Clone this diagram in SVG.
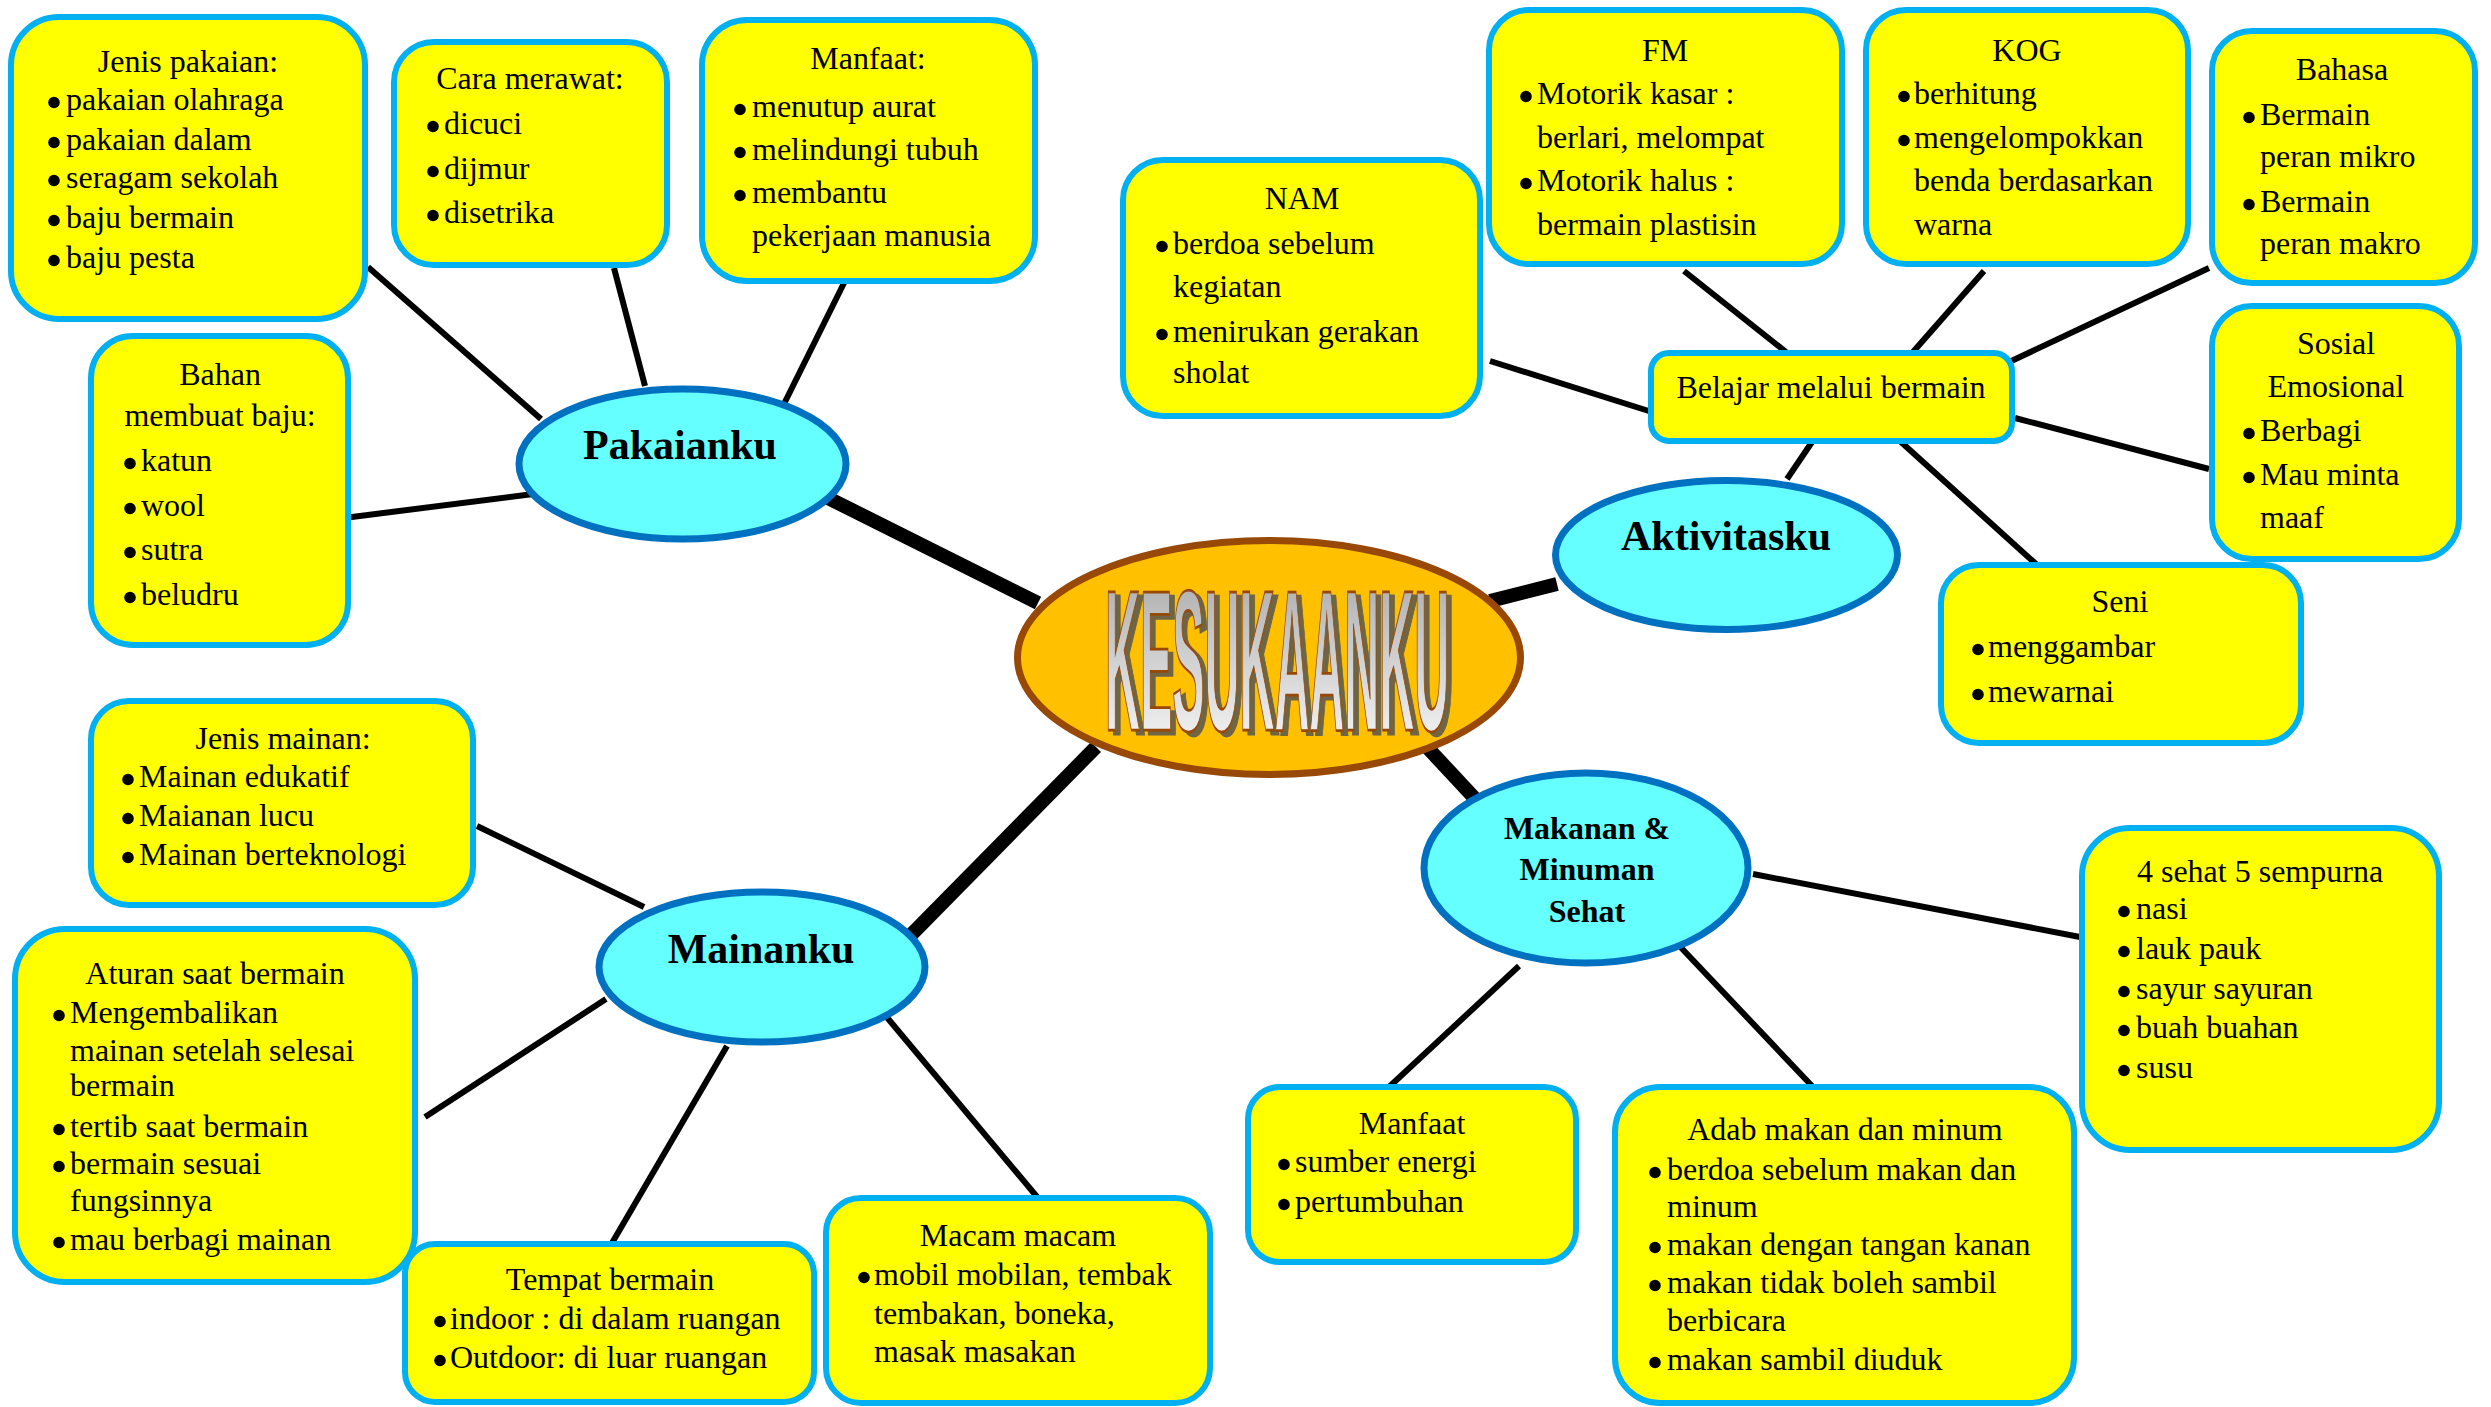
<svg xmlns="http://www.w3.org/2000/svg" width="2491" height="1407" viewBox="0 0 2491 1407">
<style>
.box{fill:#ffff00;stroke:#00b0f0;stroke-width:6}
.ell{fill:#66ffff;stroke:#0070c0;stroke-width:7}
text{font-family:"Liberation Serif","Times New Roman",serif;font-size:32px}
.c{text-anchor:middle}
.h{font-weight:bold;font-size:42px;text-anchor:middle}
.hm{font-weight:bold;font-size:32px;text-anchor:middle}
.b{fill:#000}
.ln{stroke:#000;stroke-width:6;fill:none}
.tk{stroke:#000;stroke-width:14;fill:none}
.big{font-family:"Liberation Sans",Arial,sans-serif;font-weight:bold;font-size:200px}
</style>
<defs>
<linearGradient id="gw" x1="0" y1="0" x2="0" y2="1">
<stop offset="0" stop-color="#a3a3a3"/>
<stop offset="1" stop-color="#ffffff"/>
</linearGradient>
<filter id="shadow" x="-10%" y="-10%" width="130%" height="130%" color-interpolation-filters="sRGB">
<feFlood flood-color="#6f6443" result="f"/>
<feComposite in="f" in2="SourceAlpha" operator="in" result="s"/>
<feOffset in="s" dx="5" dy="4" result="o"/>
<feMerge><feMergeNode in="o"/><feMergeNode in="SourceGraphic"/></feMerge>
</filter>
</defs>
<rect width="2491" height="1407" fill="#ffffff"/>
<g id="connectors">
<line class="ln" x1="368" y1="267" x2="541" y2="419"/>
<line class="ln" x1="614" y1="268" x2="645" y2="386"/>
<line class="ln" x1="845" y1="281" x2="780" y2="412"/>
<line class="ln" x1="344" y1="518" x2="541" y2="493"/>
<line class="ln" x1="1490" y1="361" x2="1652" y2="412"/>
<line class="ln" x1="1684" y1="271" x2="1786" y2="352"/>
<line class="ln" x1="1984" y1="271" x2="1913" y2="352"/>
<line class="ln" x1="2209" y1="268" x2="2005" y2="364"/>
<line class="ln" x1="2015" y1="418" x2="2209" y2="469"/>
<line class="ln" x1="1901" y1="442" x2="2036" y2="564"/>
<line class="ln" x1="1812" y1="442" x2="1787" y2="479"/>
<line class="ln" x1="477" y1="826" x2="644" y2="907"/>
<line class="ln" x1="425" y1="1117" x2="606" y2="999"/>
<line class="ln" x1="612" y1="1243" x2="727" y2="1046"/>
<line class="ln" x1="1038" y1="1198" x2="885" y2="1015"/>
<line class="ln" x1="1753" y1="874" x2="2080" y2="937"/>
<line class="ln" x1="1519" y1="966" x2="1389" y2="1087"/>
<line class="ln" x1="1671" y1="937" x2="1813" y2="1087"/>
<line class="tk" x1="824" y1="496" x2="1038" y2="603"/>
<line class="tk" x1="1557" y1="584" x2="1490" y2="601"/>
<line class="tk" x1="909" y1="937" x2="1096" y2="747"/>
<line class="tk" x1="1426" y1="746" x2="1480" y2="804"/>
</g>
<g id="center">
<ellipse cx="1269" cy="657.5" rx="251.5" ry="117" fill="#ffc000" stroke="#984807" stroke-width="7"/>
<g filter="url(#shadow)">
<text class="big" transform="translate(1105,730) scale(0.242,1)" fill="url(#gw)" stroke="#984807" stroke-width="2" vector-effect="non-scaling-stroke">KESUKAANKU</text>
</g>
</g>
<g id="pakaianku">
<ellipse class="ell" cx="682.5" cy="464" rx="163.5" ry="75"/>
<text class="h" x="680" y="459">Pakaianku</text>
</g>
<g id="aktivitasku">
<ellipse class="ell" cx="1726.5" cy="555" rx="171" ry="74.5"/>
<text class="h" x="1726" y="550">Aktivitasku</text>
</g>
<g id="mainanku">
<ellipse class="ell" cx="762" cy="967" rx="163" ry="75"/>
<text class="h" x="761" y="963">Mainanku</text>
</g>
<g id="makanan">
<ellipse class="ell" cx="1586" cy="868" rx="162" ry="95"/>
<text class="hm" x="1587" y="839">Makanan &amp;</text>
<text class="hm" x="1587" y="880">Minuman</text>
<text class="hm" x="1587" y="922">Sehat</text>
</g>
<g id="jenis-pakaian">
<rect class="box" x="11" y="17" width="354" height="302" rx="48"/>
<text class="c" x="188" y="72">Jenis pakaian:</text>
<circle class="b" cx="54" cy="102.5" r="5.8"/><text x="66" y="110">pakaian olahraga</text>
<circle class="b" cx="54" cy="142.5" r="5.8"/><text x="66" y="150">pakaian dalam</text>
<circle class="b" cx="54" cy="180.5" r="5.8"/><text x="66" y="188">seragam sekolah</text>
<circle class="b" cx="54" cy="220.5" r="5.8"/><text x="66" y="228">baju bermain</text>
<circle class="b" cx="54" cy="260.5" r="5.8"/><text x="66" y="268">baju pesta</text>
</g>
<g id="cara-merawat">
<rect class="box" x="394" y="42" width="273" height="223" rx="40"/>
<text class="c" x="530" y="89">Cara merawat:</text>
<circle class="b" cx="433" cy="126.5" r="5.8"/><text x="444" y="134">dicuci</text>
<circle class="b" cx="433" cy="171.5" r="5.8"/><text x="444" y="179">dijmur</text>
<circle class="b" cx="433" cy="215.5" r="5.8"/><text x="444" y="223">disetrika</text>
</g>
<g id="manfaat-pakaian">
<rect class="box" x="702" y="20" width="333" height="261" rx="45"/>
<text class="c" x="868" y="69">Manfaat:</text>
<circle class="b" cx="740" cy="109.5" r="5.8"/><text x="752" y="117">menutup aurat</text>
<circle class="b" cx="740" cy="152.5" r="5.8"/><text x="752" y="160">melindungi tubuh</text>
<circle class="b" cx="740" cy="195.5" r="5.8"/><text x="752" y="203">membantu</text>
<text x="752" y="246">pekerjaan manusia</text>
</g>
<g id="bahan">
<rect class="box" x="91" y="336" width="257" height="309" rx="42"/>
<text class="c" x="220" y="385">Bahan</text>
<text class="c" x="220" y="426">membuat baju:</text>
<circle class="b" cx="130" cy="463.5" r="5.8"/><text x="141" y="471">katun</text>
<circle class="b" cx="130" cy="508.5" r="5.8"/><text x="141" y="516">wool</text>
<circle class="b" cx="130" cy="552.5" r="5.8"/><text x="141" y="560">sutra</text>
<circle class="b" cx="130" cy="597.5" r="5.8"/><text x="141" y="605">beludru</text>
</g>
<g id="nam">
<rect class="box" x="1123" y="160" width="357" height="256" rx="40"/>
<text class="c" x="1302" y="209">NAM</text>
<circle class="b" cx="1162" cy="246.5" r="5.8"/><text x="1173" y="254">berdoa sebelum</text>
<text x="1173" y="297">kegiatan</text>
<circle class="b" cx="1162" cy="334.5" r="5.8"/><text x="1173" y="342">menirukan gerakan</text>
<text x="1173" y="383">sholat</text>
</g>
<g id="fm">
<rect class="box" x="1489" y="10" width="353" height="254" rx="40"/>
<text class="c" x="1665" y="61">FM</text>
<circle class="b" cx="1526" cy="96.5" r="5.8"/><text x="1537" y="104">Motorik kasar :</text>
<text x="1537" y="148">berlari, melompat</text>
<circle class="b" cx="1526" cy="183.5" r="5.8"/><text x="1537" y="191">Motorik halus :</text>
<text x="1537" y="235">bermain plastisin</text>
</g>
<g id="kog">
<rect class="box" x="1866" y="10" width="322" height="254" rx="40"/>
<text class="c" x="2027" y="61">KOG</text>
<circle class="b" cx="1904" cy="96.5" r="5.8"/><text x="1914" y="104">berhitung</text>
<circle class="b" cx="1904" cy="140.5" r="5.8"/><text x="1914" y="148">mengelompokkan</text>
<text x="1914" y="191">benda berdasarkan</text>
<text x="1914" y="235">warna</text>
</g>
<g id="bahasa">
<rect class="box" x="2212" y="31" width="263" height="252" rx="40"/>
<text class="c" x="2342" y="80">Bahasa</text>
<circle class="b" cx="2249" cy="117.5" r="5.8"/><text x="2260" y="125">Bermain</text>
<text x="2260" y="167">peran mikro</text>
<circle class="b" cx="2249" cy="204.5" r="5.8"/><text x="2260" y="212">Bermain</text>
<text x="2260" y="254">peran makro</text>
</g>
<g id="belajar">
<rect class="box" x="1651" y="353" width="361" height="88" rx="18"/>
<text class="c" x="1831" y="398">Belajar melalui bermain</text>
</g>
<g id="sosial">
<rect class="box" x="2212" y="306" width="247" height="253" rx="40"/>
<text class="c" x="2336" y="354">Sosial</text>
<text class="c" x="2336" y="397">Emosional</text>
<circle class="b" cx="2249" cy="433.5" r="5.8"/><text x="2260" y="441">Berbagi</text>
<circle class="b" cx="2249" cy="477.5" r="5.8"/><text x="2260" y="485">Mau minta</text>
<text x="2260" y="528">maaf</text>
</g>
<g id="seni">
<rect class="box" x="1941" y="565" width="360" height="178" rx="38"/>
<text class="c" x="2120" y="612">Seni</text>
<circle class="b" cx="1978" cy="649.5" r="5.8"/><text x="1988" y="657">menggambar</text>
<circle class="b" cx="1978" cy="694.5" r="5.8"/><text x="1988" y="702">mewarnai</text>
</g>
<g id="jenis-mainan">
<rect class="box" x="91" y="701" width="382" height="204" rx="38"/>
<text class="c" x="283" y="749">Jenis mainan:</text>
<circle class="b" cx="128" cy="779.5" r="5.8"/><text x="139" y="787">Mainan edukatif</text>
<circle class="b" cx="128" cy="818.5" r="5.8"/><text x="139" y="826">Maianan lucu</text>
<circle class="b" cx="128" cy="857.5" r="5.8"/><text x="139" y="865">Mainan berteknologi</text>
</g>
<g id="aturan">
<rect class="box" x="15" y="929" width="400" height="353" rx="50"/>
<text class="c" x="215" y="984">Aturan saat bermain</text>
<circle class="b" cx="59" cy="1015.5" r="5.8"/><text x="70" y="1023">Mengembalikan</text>
<text x="70" y="1061">mainan setelah selesai</text>
<text x="70" y="1096">bermain</text>
<circle class="b" cx="59" cy="1129.5" r="5.8"/><text x="70" y="1137">tertib saat bermain</text>
<circle class="b" cx="59" cy="1166.5" r="5.8"/><text x="70" y="1174">bermain sesuai</text>
<text x="70" y="1211">fungsinnya</text>
<circle class="b" cx="59" cy="1242.5" r="5.8"/><text x="70" y="1250">mau berbagi mainan</text>
</g>
<g id="tempat">
<rect class="box" x="405" y="1244" width="409" height="158" rx="30"/>
<text class="c" x="610" y="1290">Tempat bermain</text>
<circle class="b" cx="440" cy="1321.5" r="5.8"/><text x="450" y="1329">indoor : di dalam ruangan</text>
<circle class="b" cx="440" cy="1360.5" r="5.8"/><text x="450" y="1368">Outdoor: di luar ruangan</text>
</g>
<g id="macam">
<rect class="box" x="826" y="1198" width="384" height="205" rx="35"/>
<text class="c" x="1018" y="1246">Macam macam</text>
<circle class="b" cx="864" cy="1277.5" r="5.8"/><text x="874" y="1285">mobil mobilan, tembak</text>
<text x="874" y="1324">tembakan, boneka,</text>
<text x="874" y="1362">masak masakan</text>
</g>
<g id="manfaat-makanan">
<rect class="box" x="1248" y="1087" width="328" height="175" rx="32"/>
<text class="c" x="1412" y="1134">Manfaat</text>
<circle class="b" cx="1284" cy="1164.5" r="5.8"/><text x="1295" y="1172">sumber energi</text>
<circle class="b" cx="1284" cy="1204.5" r="5.8"/><text x="1295" y="1212">pertumbuhan</text>
</g>
<g id="adab">
<rect class="box" x="1615" y="1087" width="459" height="316" rx="45"/>
<text class="c" x="1845" y="1140">Adab makan dan minum</text>
<circle class="b" cx="1655" cy="1172.5" r="5.8"/><text x="1667" y="1180">berdoa sebelum makan dan</text>
<text x="1667" y="1217">minum</text>
<circle class="b" cx="1655" cy="1247.5" r="5.8"/><text x="1667" y="1255">makan dengan tangan kanan</text>
<circle class="b" cx="1655" cy="1285.5" r="5.8"/><text x="1667" y="1293">makan tidak boleh sambil</text>
<text x="1667" y="1331">berbicara</text>
<circle class="b" cx="1655" cy="1362.5" r="5.8"/><text x="1667" y="1370">makan sambil diuduk</text>
</g>
<g id="empat-sehat">
<rect class="box" x="2082" y="828" width="357" height="322" rx="48"/>
<text class="c" x="2260" y="882">4 sehat 5 sempurna</text>
<circle class="b" cx="2124" cy="911.5" r="5.8"/><text x="2136" y="919">nasi</text>
<circle class="b" cx="2124" cy="951.5" r="5.8"/><text x="2136" y="959">lauk pauk</text>
<circle class="b" cx="2124" cy="991.5" r="5.8"/><text x="2136" y="999">sayur sayuran</text>
<circle class="b" cx="2124" cy="1030.5" r="5.8"/><text x="2136" y="1038">buah buahan</text>
<circle class="b" cx="2124" cy="1070.5" r="5.8"/><text x="2136" y="1078">susu</text>
</g>
</svg>
